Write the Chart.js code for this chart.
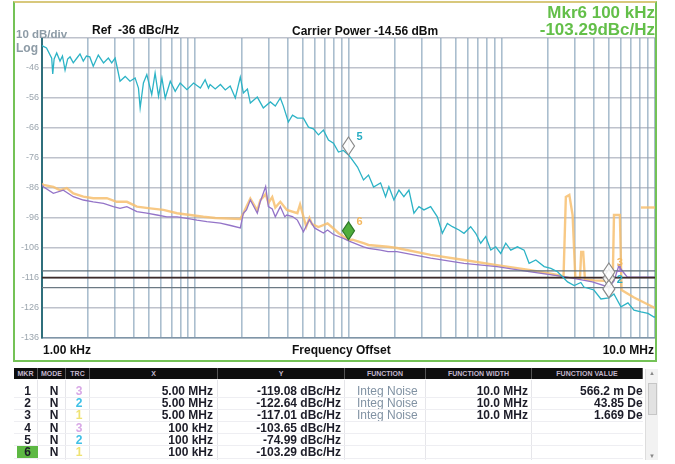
<!DOCTYPE html>
<html>
<head>
<meta charset="utf-8">
<script src="https://cdn.jsdelivr.net/npm/chart.js@4.4.0/dist/chart.umd.min.js"></script>
<style>
body { margin: 0; background: #fff; font-family: "Liberation Sans", Arial, sans-serif; }
#wrap { position: relative; width: 675px; height: 464px; overflow: hidden; background: #fff; }
#c { position: absolute; left: 0; top: 0; }
.frame { position: absolute; left: 13px; top: 1px; width: 640px; height: 357px; border: 2px solid #74c256; border-top-color: #d8c87c; pointer-events: none; }
.t { position: absolute; white-space: nowrap; font-weight: bold; }
#tbl { position: absolute; left: 14px; top: 368px; width: 629px; height: 92px; }
.hd { position: absolute; top: 0; height: 11px; background: #0e0e0e; color: #c2b6cc; font-size: 7px; font-weight: bold; line-height: 11px; text-align: center; border-right: 1px solid #555; box-sizing: border-box; }
.cell { position: absolute; height: 12px; font-size: 12px; line-height: 12px; font-weight: bold; color: #1c1c28; white-space: nowrap; overflow: hidden; box-sizing: border-box; }
.rowline { position: absolute; left: 0; width: 629px; height: 1px; background: #eeeef2; }
.colline { position: absolute; top: 12px; width: 1px; height: 80px; background: #e6e6ea; }
#scroll { position: absolute; left: 645px; top: 369px; width: 12px; height: 91px; background: #f2f2f2; border-left: 1px solid #ddd; }
#thumb { position: absolute; left: 2px; top: 14px; width: 7px; height: 30px; background: #e2e2e2; border: 1px solid #c6c6c6; }
.arr { position: absolute; left: 0; width: 12px; text-align: center; font-size: 6px; color: #888; }
</style>
</head>
<body>
<div id="wrap">
  <canvas id="c" width="675" height="464"></canvas>
  <div class="frame"></div>
  <div class="t" style="left:16px;top:28px;font-size:11.5px;color:#8d9ba6;">10 dB/div</div>
  <div class="t" style="left:16px;top:41px;font-size:12px;color:#8d9ba6;">Log</div>
  <div class="t" style="left:92px;top:23px;font-size:12px;color:#111;">Ref&nbsp; -36 dBc/Hz</div>
  <div class="t" style="left:292px;top:24px;font-size:12px;color:#111;">Carrier Power -14.56 dBm</div>
  <div class="t" style="right:20px;top:3px;font-size:17px;color:#63bf49;">Mkr6 100 kHz</div>
  <div class="t" style="right:20px;top:20px;font-size:17px;color:#63bf49;">-103.29dBc/Hz</div>
  <div class="t" style="left:43px;top:343px;font-size:12px;color:#111;">1.00 kHz</div>
  <div class="t" style="left:292px;top:343px;font-size:12px;color:#111;">Frequency Offset</div>
  <div class="t" style="right:21px;top:343px;font-size:12px;color:#111;">10.0 MHz</div>
  <div id="tbl"></div>
  <div id="scroll"><div class="arr" style="top:1px;">&#9650;</div><div id="thumb"></div><div class="arr" style="bottom:1px;">&#9660;</div></div>
</div>
<script>
// grid / tick positions
const gridFreqs = [1000, 2000, 3000, 4000, 5000, 6000, 7000, 8000, 9000,
    10000, 20000, 30000, 40000, 50000, 60000, 70000, 80000, 90000,
    100000, 200000, 300000, 400000, 500000, 600000, 700000, 800000, 900000,
    1000000, 2000000, 3000000, 4000000, 5000000, 6000000, 7000000, 8000000, 9000000,
    10000000];
const yTicks = [-136, -126, -116, -106, -96, -86, -76, -66, -56, -46, -36];

// trace 2 (cyan)
const t2Freq = [1000, 1020, 1070, 1157, 1175, 1200, 1247, 1311, 1360, 1414, 1470, 1524, 1600, 1700, 1770, 1860, 1950,
    2050, 2160, 2330, 2520, 2710, 2850, 3000, 3100, 3230, 3490, 3750, 4050, 4260, 4370, 4590, 4830, 5200, 5470,
    5760, 6060, 6370, 6870, 7400, 7970, 8830, 9750, 10800, 11600, 12200, 12500, 13500, 14600, 15700, 16900,
    18260, 19680, 20600, 21900, 22880, 25400, 27800, 30900, 33300, 35900, 37600, 40500, 43100, 46400, 50800,
    54800, 59000, 63700, 68600, 74000, 79800, 86000, 92700, 100000, 106200, 114500, 125300, 135100, 145700,
    161900, 174500, 183400, 197800, 213300, 229800, 247900, 267300, 288100, 310600, 343600, 379900, 409600,
    441700, 476300, 526000, 567000, 627000, 676000, 729000, 786000, 848000, 914000, 985000, 1062000, 1145000,
    1266000, 1399000, 1508000, 1668000, 1891000, 2091000, 2312000, 2493000, 2688000, 2969000, 3283000, 3435000,
    3993000, 4437000, 5000000, 5395000, 5995000, 6660000, 7292000, 8100000, 9000000, 9851000, 10000000];
const t2Val = [-38.5, -38.8, -39.3, -42.7, -48, -43, -41, -43.7, -42, -46.7, -43, -42.3, -44.3, -42.5, -41.3, -43.7, -42,
    -42.3, -45.4, -41.7, -44.3, -42.7, -44.3, -42.7, -46, -50.4, -48.8, -50.4, -49.3, -52.7, -59.3, -51, -48.2, -54.9, -47.7,
    -55.4, -49.3, -56, -50.4, -53.8, -51, -53.2, -51, -52.7, -49.9, -52.7, -51.5, -53, -51.5, -53.3, -52,
    -56, -49, -54.3, -53, -57.7, -55.7, -59.3, -57.3, -58.7, -56, -58.7, -64, -61.7, -62.7, -62.7,
    -65.7, -66.3, -68.3, -66.7, -70, -71.1, -74, -73.5, -74.99, -76.7, -79, -83.3, -81.7, -85.7,
    -84.3, -88.9, -85.6, -90, -86.7, -88.9, -86.7, -94.4, -92.2, -93.3, -92.2, -95.6, -101.1,
    -97.8, -98.9, -100, -101.1, -98.9, -101.1, -104.4, -102.2, -106.7, -105.6, -107.8, -104.4, -106.7,
    -105.6, -106.7, -111.1, -110, -112.2, -112.8, -113.9, -115.6, -117.3, -118.5, -117.5, -119,
    -120, -123, -122.64, -121.3, -125.6, -124.3, -126.7, -127.3, -127.8, -129, -129];

// trace 1 (orange)
const t1Freq = [1000, 1020, 1186, 1311, 1450, 1600, 1860, 2160, 2650, 3070, 3580, 4160, 5080, 6200, 7600, 9270, 11300,
    13500, 19680, 20600, 22880, 25400, 26600, 27800, 28800, 30000, 31800, 33300, 35900, 39600, 46400, 48300,
    53000, 55600, 57700, 63700, 73000, 79800, 86000, 100000, 106200, 125300, 135000, 180500, 207000, 343600,
    567000, 930000, 1508000, 2310000, 2530000, 2620000, 2760000, 2900000, 3020000, 3240000, 3300000, 3400000,
    3490000, 4000000, 5000000, 5300000, 5400000, 5900000, 6050000, 7300000, 10000000];
const t1Val = [-84.5, -85, -85.6, -86.7, -86, -87.8, -88.9, -89.4, -89.4, -90.6, -90.6, -92.2, -92.8, -93.3, -94.4, -95, -95.6,
    -96, -96.3, -94.4, -89.5, -93.5, -90, -89, -88, -91, -89, -92.5, -90.6, -93.3, -94.4, -91.5,
    -98.9, -96, -98, -99, -97.8, -99.5, -101, -103.29, -103.2, -104.4, -105, -105.6, -106, -108.3,
    -110, -111.7, -113.3, -115, -115.5, -89, -88.3, -95, -115.8, -116, -107.3, -107.3,
    -116.5, -116.8, -117.01, -116.5, -95, -95, -120, -122.5, -126];
const t1SpurFreq = [8100000, 10000000];
const t1SpurVal = [-92.5, -92.5];

// trace 3 (purple)
const t3Freq = [1000, 1020, 1186, 1378, 1600, 1860, 2160, 2520, 2920, 3230, 3580, 4160, 4830, 5620, 6530, 7600, 8830,
    10260, 11900, 14570, 17000, 19680, 20600, 21600, 22880, 24000, 25400, 26400, 28800, 30000, 31800, 33300,
    35900, 38400, 39600, 43100, 46400, 50800, 55600, 60000, 68600, 73000, 79800, 92700, 100000, 125300, 135100,
    162000, 181000, 207000, 343600, 567000, 930000, 1508000, 2611000, 3900000, 5000000, 5400000, 5800000,
    6200000, 6600000, 8000000, 10000000];
const t3Val = [-85, -85.6, -87.8, -86.7, -88.9, -90, -90.6, -91.1, -92.2, -92.8, -92.2, -93.9, -94.4, -95, -95.6, -95.6, -96.1,
    -96.7, -97.2, -97.7, -98.5, -99.3, -94.4, -93.3, -90, -92, -94.4, -91, -85.5, -92.2, -93, -95.6,
    -92.2, -95.6, -95, -95.5, -96.7, -100.6, -96.5, -99.3, -101, -100, -101.5, -102.8, -103.65, -105.6, -106.1,
    -106.7, -107.2, -107.2, -109.4, -111.1, -112.2, -113.9, -115.6, -117.3, -119.08, -117, -112,
    -114, -115.7, -115.7, -115.7];

// display lines (dB)
const displayLines = [-113.6, -115.9, -119.2];

// marker table
const mkrNum = [1, 2, 3, 4, 5, 6];
const mkrTrace = [3, 2, 1, 3, 2, 1];
const mkrFreq = [5000000, 5000000, 5000000, 100000, 100000, 100000];
const mkrX = ['5.00 MHz', '5.00 MHz', '5.00 MHz', '100 kHz', '100 kHz', '100 kHz'];
const mkrVal = [-119.08, -122.64, -117.01, -103.65, -74.99, -103.29];
const mkrFunc = ['Integ Noise', 'Integ Noise', 'Integ Noise', '', '', ''];
const mkrFuncWidth = ['10.0 MHz', '10.0 MHz', '10.0 MHz', '', '', ''];
const mkrFuncValue = ['566.2 m Deg', '43.85 Deg', '1.669 Deg', '', '', ''];
const activeMkr = 6;

const traceColor = { 1: '#f4b860', 2: '#27acc2', 3: '#9674c6' };
const tableTraceColor = { 1: '#efe272', 2: '#3fc0e6', 3: '#d8a8e6' };

function pts(f, v) { return f.map((x, i) => ({ x: x, y: v[i] })); }

Chart.defaults.font.family = "'Liberation Sans', Arial, sans-serif";

var lineColors = ['#5e6c76', '#3c2b29', '#6c7a84'];
var datasets = [{
    data: pts(t2Freq, t2Val), borderColor: '#2cb3c6', borderWidth: 1.3, order: 1
}];
displayLines.forEach(function (v, i) {
    datasets.push({
        data: [{ x: 1000, y: v }, { x: 10000000, y: v }],
        borderColor: lineColors[i], borderWidth: i === 1 ? 1.8 : 1.3, order: 2
    });
});
datasets.push({ data: pts(t3Freq, t3Val), borderColor: '#9474c8', borderWidth: 1.3, order: 3 });
datasets.push({ data: pts(t1Freq, t1Val), borderColor: 'rgba(247,192,112,0.85)', borderWidth: 2.4, order: 4 });
datasets.push({ data: pts(t1SpurFreq, t1SpurVal), borderColor: 'rgba(247,192,112,0.85)', borderWidth: 2.4, order: 4 });

const markerPlugin = {
    id: 'markers',
    afterDatasetsDraw: function (chart) {
        var ctx = chart.ctx, x = chart.scales.x, y = chart.scales.y;
        var act = mkrNum.indexOf(activeMkr);
        ctx.save();
        mkrNum.forEach(function (n, i) {
            var px = x.getPixelForValue(mkrFreq[i]);
            var py = y.getPixelForValue(mkrVal[i]);
            var active = n === activeMkr;
            // a marker sitting under the active one is hidden
            var hidden = !active && mkrFreq[i] === mkrFreq[act] &&
                Math.abs(py - y.getPixelForValue(mkrVal[act])) < 4;
            if (hidden) return;
            var hw = 6, h = 18;
            ctx.beginPath();
            ctx.moveTo(px, py);
            ctx.lineTo(px + hw, py - h / 2);
            ctx.lineTo(px, py - h);
            ctx.lineTo(px - hw, py - h / 2);
            ctx.closePath();
            ctx.fillStyle = active ? '#4fae3c' : 'rgba(255,255,255,0.85)';
            ctx.fill();
            ctx.lineWidth = 1.2;
            ctx.strokeStyle = active ? '#2f7a2a' : '#8a8a8a';
            ctx.stroke();
            ctx.font = 'bold 11px "Liberation Sans", Arial';
            ctx.fillStyle = traceColor[mkrTrace[i]];
            ctx.textBaseline = 'middle';
            ctx.fillText(String(n), px + 8, py - 18);
        });
        ctx.restore();
    }
};

new Chart(document.getElementById('c'), {
    type: 'line',
    data: { datasets: datasets },
    plugins: [markerPlugin],
    options: {
        responsive: false,
        animation: false,
        layout: { padding: { left: 0, top: 38, right: 20, bottom: 116 } },
        elements: { point: { radius: 0 }, line: { tension: 0 } },
        plugins: { legend: { display: false }, tooltip: { enabled: false } },
        scales: {
            x: {
                type: 'logarithmic', min: 1000, max: 10000000,
                afterBuildTicks: function (s) { s.ticks = gridFreqs.map(function (v) { return { value: v }; }); },
                afterFit: function (s) { s.height = 10; },
                ticks: { display: false, autoSkip: false },
                grid: { color: 'rgba(118,150,176,0.62)', lineWidth: 1.6, drawTicks: false },
                border: { color: '#7f95a8', width: 1.5 }
            },
            y: {
                min: -136, max: -36,
                afterBuildTicks: function (s) { s.ticks = yTicks.map(function (v) { return { value: v }; }); },
                afterFit: function (s) { s.width = 42; },
                ticks: {
                    font: { size: 9 }, color: '#9ba5ae', padding: 3,
                    callback: function (v) { return v === -36 ? '' : v; }
                },
                grid: { color: 'rgba(150,156,172,0.62)', lineWidth: 1.6, drawTicks: false },
                border: { color: '#2f6f7c', width: 2 }
            }
        }
    }
});

// marker table
(function () {
    var cols = [
        { name: 'MKR', l: 0, w: 24 }, { name: 'MODE', l: 24, w: 28 }, { name: 'TRC', l: 52, w: 24 },
        { name: 'X', l: 76, w: 128 }, { name: 'Y', l: 204, w: 127 }, { name: 'FUNCTION', l: 331, w: 81 },
        { name: 'FUNCTION WIDTH', l: 412, w: 106 }, { name: 'FUNCTION VALUE', l: 518, w: 111 }
    ];
    var html = '';
    cols.forEach(function (c) {
        html += '<div class="hd" style="left:' + c.l + 'px;width:' + c.w + 'px;">' + c.name + '</div>';
        if (c.l > 0) html += '<div class="colline" style="left:' + (c.l - 1) + 'px;"></div>';
    });
    mkrNum.forEach(function (n, i) {
        var top = 17 + i * 12.2;
        html += '<div class="rowline" style="top:' + (top + 11.5) + 'px;"></div>';
        var bg = n === activeMkr ? 'background:#5db843;' : '';
        html += '<div class="cell" style="left:3px;width:21px;top:' + top + 'px;text-align:center;' + bg + '">' + n + '</div>';
        html += '<div class="cell" style="left:28px;width:24px;top:' + top + 'px;text-align:center;">N</div>';
        html += '<div class="cell" style="left:54px;width:22px;top:' + top + 'px;text-align:center;color:' + tableTraceColor[mkrTrace[i]] + ';">' + mkrTrace[i] + '</div>';
        html += '<div class="cell" style="left:76px;width:123px;top:' + top + 'px;text-align:right;">' + mkrX[i] + '</div>';
        html += '<div class="cell" style="left:204px;width:123px;top:' + top + 'px;text-align:right;">' + mkrVal[i].toFixed(2) + ' dBc/Hz</div>';
        html += '<div class="cell" style="left:343px;width:69px;top:' + top + 'px;font-weight:normal;color:#8192a3;">' + mkrFunc[i] + '</div>';
        html += '<div class="cell" style="left:412px;width:102px;top:' + top + 'px;text-align:right;">' + mkrFuncWidth[i] + '</div>';
        html += '<div class="cell" style="left:518px;width:111px;top:' + top + 'px;"><div style="margin-right:-7px;text-align:right;">' + mkrFuncValue[i] + '</div></div>';
    });
    document.getElementById('tbl').innerHTML = html;
})();
</script>
</body>
</html>
